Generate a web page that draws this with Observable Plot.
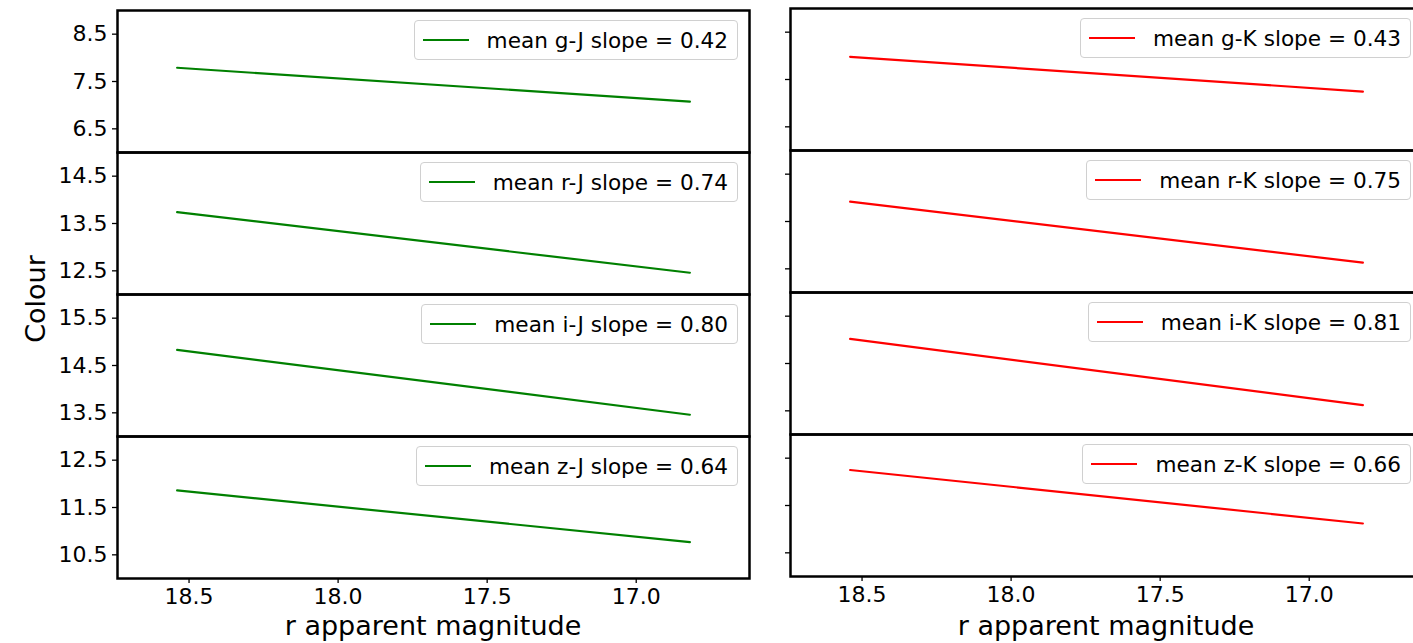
<!DOCTYPE html>
<html><head><meta charset="utf-8">
<script src="https://cdn.jsdelivr.net/npm/d3@7"></script>
<script src="https://cdn.jsdelivr.net/npm/@observablehq/plot@0.6"></script>
<style>
html,body{margin:0;padding:0;background:#fff;overflow:hidden;}
#chart{position:relative;width:1413px;height:643px;overflow:hidden;font-family:"DejaVu Sans",sans-serif;background:#fff;}
.col{position:absolute;top:0;width:760px;height:643px;}
.panel{position:absolute;left:0;width:760px;}
.panel svg{display:block;overflow:visible;}
.legend{position:absolute;display:flex;align-items:center;background:rgba(255,255,255,0.8);border:1px solid #d0d0d0;border-radius:4px;height:38px;padding:0 9px 0 8px;font-size:21.6px;color:#000;white-space:nowrap;box-sizing:content-box;}
.legend .swatch{width:46px;height:0;border-top:2px solid;margin-right:18px;}
.axlabel{position:absolute;font-size:27px;line-height:1;color:#000;white-space:nowrap;}
</style></head><body><div id="chart"></div>
<script>
// ---- data ----
const magnitude = [18.54, 16.82];          // r apparent magnitude at line ends
const bands = ["g", "r", "i", "z"];
const gJ = [7.79, 7.075];
const rJ = [13.74, 12.46];
const iJ = [14.83, 13.46];
const zJ = [11.86, 10.77];
const gK = [7.98, 7.245];
const rK = [13.92, 12.63];
const iK = [15.02, 13.62];
const zK = [12.25, 11.12];
const slopesJ = [0.42, 0.74, 0.80, 0.64];
const slopesK = [0.43, 0.75, 0.81, 0.66];
const yDomains = [[6, 9], [12, 15], [13, 16], [10, 13]];
const yTicks = [[6.5, 7.5, 8.5], [12.5, 13.5, 14.5], [13.5, 14.5, 15.5], [10.5, 11.5, 12.5]];
const xDomain = [18.74, 16.62];
const xTicks = [18.5, 18.0, 17.5, 17.0];
const xLabel = "r apparent magnitude";
const yLabel = "Colour";

// ---- layout ----
const chart = document.getElementById("chart");
const panelH = 142;
const columns = [
  {left: 0, top: 10, filter: "J", series: [gJ, rJ, iJ, zJ], slopes: slopesJ, color: "green", labels: true},
  {left: 673, top: 8.3, filter: "K", series: [gK, rK, iK, zK], slopes: slopesK, color: "red", labels: false}
];

columns.forEach(col => {
  const cdiv = document.createElement("div");
  cdiv.className = "col";
  cdiv.style.left = col.left + "px";
  chart.appendChild(cdiv);
  col.series.forEach((vals, i) => {
    const bottom = i === col.series.length - 1;
    const data = magnitude.map((m, k) => ({m, c: vals[k]}));
    const marks = [
      Plot.line(data, {x: "m", y: "c", stroke: col.color, strokeWidth: 2.2}),
      Plot.axisY({ticks: yTicks[i], tickSize: 5, tickPadding: 5, label: null, fontSize: 22,
        tickFormat: col.labels ? d3.format(".1f") : () => "", strokeWidth: 1.3}),
      Plot.frame({stroke: "black", strokeWidth: 2.5})
    ];
    if (bottom) marks.push(Plot.axisX({ticks: xTicks, tickSize: 5, tickPadding: 5, label: null, fontSize: 22,
      tickFormat: d3.format(".1f"), strokeWidth: 1.3}));
    const svg = Plot.plot({
      width: 760,
      height: panelH + 2 + (bottom ? 65 : 2),
      marginLeft: 117, marginRight: 11, marginTop: 2, marginBottom: bottom ? 65 : 2,
      style: {fontFamily: "DejaVu Sans", fontSize: "22px", color: "black", background: "transparent", overflow: "visible"},
      x: {domain: xDomain, axis: bottom ? undefined : null},
      y: {domain: yDomains[i]},
      marks
    });
    const pdiv = document.createElement("div");
    pdiv.className = "panel";
    pdiv.style.top = (col.top + i * panelH - 2) + "px";
    pdiv.appendChild(svg);
    const leg = document.createElement("div");
    leg.className = "legend";
    leg.style.right = "22px";
    leg.style.top = "12px";
    const sw = document.createElement("span");
    sw.className = "swatch";
    sw.style.borderTopColor = col.color;
    const tx = document.createElement("span");
    tx.textContent = `mean ${bands[i]}-${col.filter} slope = ${col.slopes[i].toFixed(2)}`;
    leg.appendChild(sw); leg.appendChild(tx);
    pdiv.appendChild(leg);
    cdiv.appendChild(pdiv);
  });
  const xl = document.createElement("div");
  xl.className = "axlabel";
  xl.textContent = xLabel;
  xl.style.left = (col.left + 433) + "px";
  xl.style.top = "612px";
  xl.style.transform = "translateX(-50%)";
  chart.appendChild(xl);
});

const yl = document.createElement("div");
yl.className = "axlabel";
yl.textContent = yLabel;
yl.style.left = "35px";
yl.style.top = "299px";
yl.style.transform = "translate(-50%,-50%) rotate(-90deg)";
chart.appendChild(yl);
</script></body></html>
